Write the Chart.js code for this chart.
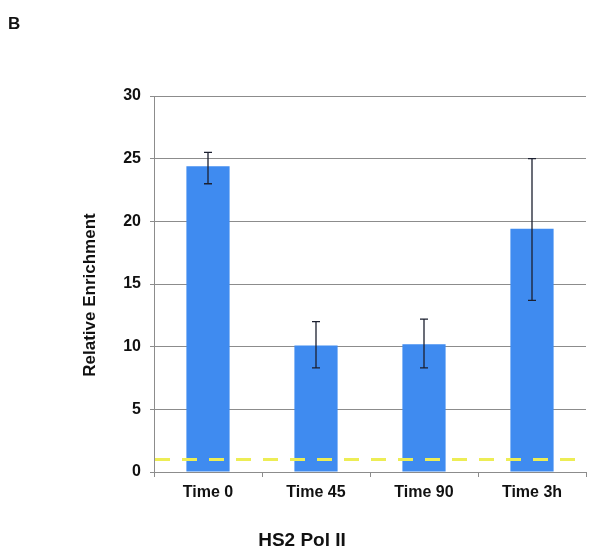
<!DOCTYPE html>
<html>
<head>
<meta charset="utf-8">
<script src="https://cdn.jsdelivr.net/npm/chart.js@4/dist/chart.umd.min.js"></script>
<style>
  body { margin: 0; background: #fff; }
  canvas { display: block; }
</style>
</head>
<body>
<canvas id="chart" width="600" height="559"></canvas>
<script>
// Data
const categories = ["Time 0", "Time 45", "Time 90", "Time 3h"];
const enrichment = [24.4, 10.1, 10.2, 19.4];
const errorLow = [23.0, 8.3, 8.3, 13.7];
const errorHigh = [25.5, 12.0, 12.2, 25.0];
const baselineValue = 1;
const yMin = 0, yMax = 30, yStep = 5;

// Style settings
let barColor = "#3f8bf0";
let errorColor = "#1c2030";
let gridColor = "#8c8c8c";
let baselineColor = "#eded55";
let fontFamily = "'Liberation Sans', Arial, sans-serif";

const errorBars = {
  id: "errorBars",
  afterDatasetsDraw(chart) {
    const c = chart.ctx;
    const y = chart.scales.y;
    const meta = chart.getDatasetMeta(0);
    c.save();
    c.strokeStyle = errorColor;
    c.lineWidth = 1.3;
    meta.data.forEach((bar, i) => {
      const yl = y.getPixelForValue(errorLow[i]);
      const yh = y.getPixelForValue(errorHigh[i]);
      c.beginPath();
      c.moveTo(bar.x, yl); c.lineTo(bar.x, yh);
      c.moveTo(bar.x - 4, yl); c.lineTo(bar.x + 4, yl);
      c.moveTo(bar.x - 4, yh); c.lineTo(bar.x + 4, yh);
      c.stroke();
    });
    // yellow dashed reference line
    const area = chart.chartArea;
    const yb = y.getPixelForValue(baselineValue);
    c.strokeStyle = baselineColor;
    c.lineWidth = 3;
    c.setLineDash([15, 12]);
    c.beginPath();
    c.moveTo(area.left + 1, yb);
    c.lineTo(area.right, yb);
    c.stroke();
    c.restore();
  },
  afterDraw(chart) {
    const c = chart.ctx;
    c.save();
    c.fillStyle = "#111";
    c.font = "bold 17px " + fontFamily;
    c.textAlign = "left";
    c.textBaseline = "alphabetic";
    c.fillText("B", 8, 29);
    c.font = "bold 19px " + fontFamily;
    c.textAlign = "center";
    c.textBaseline = "middle";
    c.fillText("HS2 Pol II", 302, 541);
    c.translate(90, 295);
    c.rotate(-Math.PI / 2);
    c.font = "bold 17px " + fontFamily;
    c.fillText("Relative Enrichment", 0, 0);
    c.restore();
  }
};

new Chart(document.getElementById("chart"), {
  type: "bar",
  data: {
    labels: categories,
    datasets: [{
      data: enrichment,
      backgroundColor: barColor,
      borderWidth: 0,
      barPercentage: 0.4,
      categoryPercentage: 1.0
    }]
  },
  options: {
    responsive: false,
    animation: false,
    layout: { padding: { left: 80, top: 96, right: 14, bottom: 47 } },
    plugins: {
      legend: { display: false },
      tooltip: { enabled: false }
    },
    scales: {
      x: {
        afterFit: s => { s.height = 40; },
        grid: { display: true, drawOnChartArea: false, offset: true, tickLength: 5, color: gridColor },
        border: { color: gridColor },
        ticks: { padding: 6, color: "#111", font: { family: fontFamily, size: 16, weight: "bold" } }
      },
      y: {
        min: yMin,
        max: yMax,
        afterFit: s => { s.width = 74; },
        grid: { color: gridColor, tickLength: 4 },
        border: { color: gridColor },
        ticks: { stepSize: yStep, padding: 9, color: "#111", font: { family: fontFamily, size: 16, weight: "bold" } }
      }
    }
  },
  plugins: [errorBars]
});
</script>
</body>
</html>
